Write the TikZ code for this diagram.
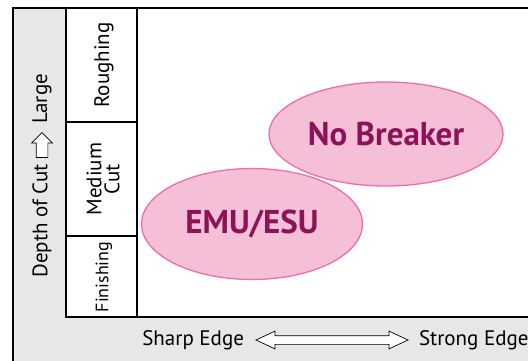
\documentclass[tikz,border=0pt]{standalone}
\usepackage{fontspec}
\setmainfont{PT Sans}
\usetikzlibrary{positioning,shapes.geometric,shapes.arrows}
\definecolor{panelgrey}{HTML}{E6E7E8}
\definecolor{blobfill}{HTML}{F6BFD8}
\definecolor{blobline}{HTML}{EE6FA7}
\definecolor{blobtext}{HTML}{8A1457}
\tikzset{
  frame/.style={line width=1.8pt},
  rowlabel/.style={rotate=90, align=center, inner sep=0pt,
    font=\fontsize{21}{18}\selectfont},
  axislabel/.style={inner sep=0pt, font=\fontsize{21}{21}\selectfont},
  blob/.style={
    ellipse, draw=blobline, fill=blobfill, line width=1.3pt,
    inner sep=0pt, text=blobtext,
    font=\bfseries\fontsize{33}{33}\selectfont
  },
  hollow/.style={draw, fill=white, line width=0.7pt, inner sep=0pt}
}

\begin{document}
\begin{tikzpicture}[x=1pt,y=-1pt]
  \useasboundingbox (0,0) rectangle (528,360);
  \clip (0,0) rectangle (528,360);
  % grey panel and plot area
  \fill[panelgrey] (13,8) rectangle (540,370);
  \fill[white] (66,8) rectangle (540,317);
  \draw[frame] (13,370) -- (13,8) -- (540,8);
  \draw[frame] (66,8) -- (66,317) -- (540,317);
  \draw[frame] (137,8) -- (137,317);
  \draw[frame] (66,122) -- (137,122);
  \draw[frame] (66,236) -- (137,236);
  % cut levels
  \node[rowlabel] (rough) at (104,65) {Roughing};
  \node[rowlabel] (medium) at (103,179) {Medium\\Cut};
  \node[rowlabel, font=\fontsize{18}{18}\selectfont] (finish) at (104,277) {Finishing};
  % vertical axis
  \node[hollow, single arrow, shape border rotate=90, inner xsep=5.5pt,
    minimum height=25pt, single arrow head extend=4.5pt,
    single arrow tip angle=90] (up) at (42,148) {};
  \node[axislabel, rotate=90, anchor=west] (large) at ([yshift=8pt]up.north) {Large};
  \node[axislabel, rotate=90, anchor=east] (depth) at ([yshift=-6pt]up.south) {Depth of Cut};
  % horizontal axis
  \node[hollow, double arrow, inner ysep=4pt, minimum height=152pt,
    double arrow head extend=4.5pt, double arrow tip angle=50] (across) at (332,340) {};
  \node[axislabel, left=11pt of across] (sharp) {Sharp Edge};
  \node[axislabel, right=10pt of across] (strong) {Strong Edge};
  % regions
  \node[blob, minimum width=234pt, minimum height=104pt] (nobreak) at (386,134) {No Breaker};
  \node[blob, minimum width=221pt, minimum height=111pt] (emu) at (252,224) {EMU/ESU};
\end{tikzpicture}
\end{document}
